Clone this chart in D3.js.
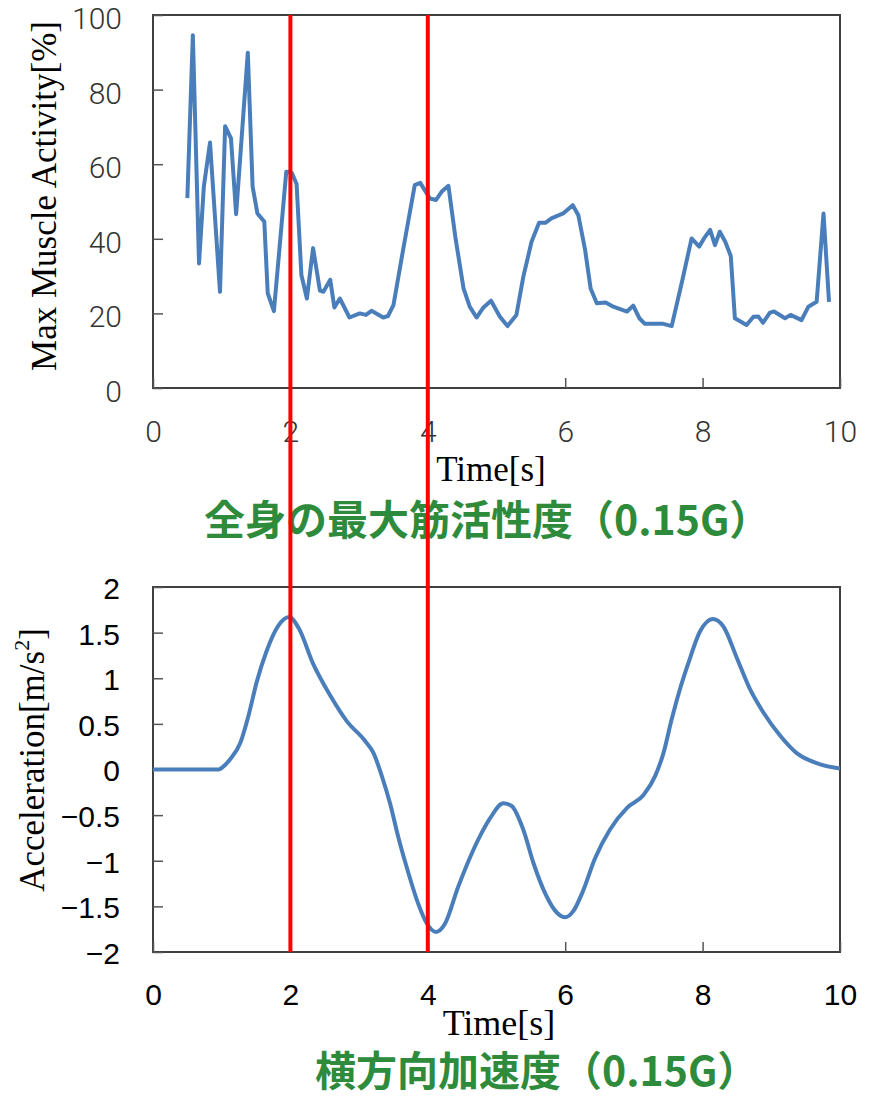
<!DOCTYPE html>
<meta charset="utf-8">
<style>
body{ margin:0; background:#fff; }
.frame{ fill:none; stroke:#404040; stroke-width:2px; }
.tick line{ stroke:#555; stroke-width:1.5px; }
.domain{ display:none; }
.topAxis text{ font-family:Roboto, sans-serif; font-weight:300; font-size:30px; fill:#333; }
.botAxis text{ font-family:"Liberation Sans", Arial, sans-serif; font-size:30px; fill:#000; }
.axisTitle{ font-family:"Liberation Serif", "Times New Roman", serif; fill:#000; }
.caption{ font-family:"Noto Sans CJK JP", sans-serif; font-weight:700; font-size:41px; fill:#2e8b3c; }
.curve{ fill:none; stroke:#4a7ebb; stroke-width:4px; stroke-linejoin:round; }
.marker{ stroke:#ff0000; stroke-width:4px; }
</style>
<body>
<script src="https://d3js.org/d3.v7.min.js"></script>
<script>

// full-body max muscle activity [%]
var topTime=[0.50,0.58,0.67,0.74,0.83,0.975,1.05,1.135,1.21,1.38,1.45,1.52,1.62,1.67,1.76,1.94,2.02,2.09,2.16,2.24,2.33,2.43,2.48,2.58,2.64,2.72,2.86,3.01,3.10,3.18,3.35,3.42,3.50,3.64,3.81,3.89,4.03,4.12,4.20,4.30,4.40,4.52,4.61,4.71,4.81,4.92,5.05,5.16,5.29,5.39,5.51,5.62,5.71,5.80,5.97,6.11,6.19,6.29,6.37,6.46,6.59,6.70,6.90,6.99,7.08,7.16,7.43,7.55,7.70,7.84,7.95,8.02,8.11,8.18,8.25,8.33,8.41,8.47,8.64,8.74,8.81,8.88,8.98,9.04,9.20,9.28,9.44,9.54,9.66,9.76,9.84];
var topActivity=[50.9,94.6,33.4,54,65.8,25.8,70.2,66.9,46.6,89.9,54,46.8,44.6,25.4,20.6,58,57.7,54.7,30.3,24,37.5,26.1,25.8,29,21.6,24,18.9,20,19.6,20.7,18.9,19.3,22.2,37,54.4,55,50.8,50.4,52.6,54.2,40.6,26.7,21.8,18.9,21.6,23.4,19.1,16.6,19.6,29.8,39.2,44.3,44.3,45.5,46.8,49,46.4,37,26.7,22.7,22.9,21.8,20.5,22.1,18.7,17.2,17.2,16.6,28.5,40.1,37.9,40.1,42.4,38.3,41.9,39.2,35.4,18.7,16.9,19.1,19.2,17.5,20.2,20.5,18.7,19.6,18.2,21.8,23.1,46.8,23.1];

// lateral acceleration [m/s2]
var accTime=[0,0.5,0.95,1.05,1.12,1.27,1.39,1.51,1.65,1.82,1.98,2.12,2.33,2.58,2.82,3.09,3.21,3.33,3.45,3.57,3.72,3.86,3.98,4.12,4.25,4.44,4.64,4.78,4.91,5.10,5.22,5.39,5.54,5.71,5.88,6.00,6.12,6.26,6.43,6.65,6.90,7.14,7.31,7.43,7.55,7.67,7.79,7.96,8.15,8.30,8.50,8.69,8.88,9.13,9.37,9.66,10.0];
var accValue=[0,0,0,0.05,0.11,0.29,0.59,0.96,1.29,1.57,1.67,1.55,1.16,0.81,0.53,0.31,0.18,-0.07,-0.37,-0.74,-1.14,-1.47,-1.68,-1.78,-1.69,-1.29,-0.92,-0.70,-0.53,-0.37,-0.40,-0.66,-1.03,-1.36,-1.57,-1.62,-1.55,-1.33,-0.98,-0.66,-0.42,-0.28,-0.07,0.18,0.55,0.88,1.16,1.51,1.65,1.57,1.22,0.88,0.63,0.37,0.18,0.07,0.01];

var xTicks=[0,2,4,6,8,10];
var topYTicks=[0,20,40,60,80,100];
var botYTicks=[-2,-1.5,-1,-0.5,0,0.5,1,1.5,2];
var markerTimes=[2,4];

var svg=d3.select("body").append("svg").attr("width",869).attr("height",1098);

var x=d3.scaleLinear().domain([0,10]).range([153,840]);
var yTop=d3.scaleLinear().domain([0,100]).range([388,15]);
var yBot=d3.scaleLinear().domain([-2,2]).range([952,587]);

// ---- top chart
svg.append("rect").attr("class","frame")
	.attr("x",x(0)).attr("y",yTop(100)).attr("width",x(10)-x(0)).attr("height",yTop(0)-yTop(100));

var gTy=svg.append("g").attr("class","topAxis").attr("transform","translate("+x(0)+",0)")
	.call(d3.axisLeft(yTop).tickValues(topYTicks).tickSizeInner(-10).tickSizeOuter(0).tickPadding(31));
gTy.selectAll("text").attr("dy","0.45em");

var gTx=svg.append("g").attr("class","topAxis").attr("transform","translate(0,"+yTop(0)+")")
	.call(d3.axisBottom(x).tickValues(xTicks).tickSizeInner(-10).tickSizeOuter(0).tickPadding(33));

svg.append("path").attr("class","curve")
	.attr("d",d3.line().x((d,i)=>x(topTime[i])).y(d=>yTop(d))(topActivity));

svg.append("text").attr("class","axisTitle").attr("font-size",35)
	.attr("transform","translate(56,196) rotate(-90)").attr("text-anchor","middle")
	.text("Max Muscle Activity[%]");
svg.append("text").attr("class","axisTitle").attr("font-size",35)
	.attr("x",491).attr("y",481).attr("text-anchor","middle").text("Time[s]");
svg.append("text").attr("class","caption").attr("x",204).attr("y",535).text("全身の最大筋活性度（0.15G）");

// ---- bottom chart
svg.append("rect").attr("class","frame")
	.attr("x",x(0)).attr("y",yBot(2)).attr("width",x(10)-x(0)).attr("height",yBot(-2)-yBot(2));

var gBy=svg.append("g").attr("class","botAxis").attr("transform","translate("+x(0)+",0)")
	.call(d3.axisLeft(yBot).tickValues(botYTicks).tickSizeInner(-10).tickSizeOuter(0).tickPadding(33)
		.tickFormat(d=>d3.format("")(d).replace("-","\u2212")));
gBy.selectAll("text").attr("dy","0.38em");

var gBx=svg.append("g").attr("class","botAxis").attr("transform","translate(0,"+yBot(-2)+")")
	.call(d3.axisBottom(x).tickValues(xTicks).tickSizeInner(-10).tickSizeOuter(0).tickPadding(32));

svg.append("path").attr("class","curve")
	.attr("d",d3.line().curve(d3.curveMonotoneX).x((d,i)=>x(accTime[i])).y(d=>yBot(d))(accValue));

var yt=svg.append("text").attr("class","axisTitle").attr("font-size",35)
	.attr("transform","translate(44,760) rotate(-90)").attr("text-anchor","middle");
yt.append("tspan").text("Acceleration[m/s");
yt.append("tspan").attr("font-size",22).attr("dy","-0.7em").text("2");
yt.append("tspan").attr("dy","0.45em").text("]");

svg.append("text").attr("class","axisTitle").attr("font-size",36)
	.attr("x",499).attr("y",1035).attr("text-anchor","middle").text("Time[s]");
svg.append("text").attr("class","caption").attr("x",315).attr("y",1086).text("横方向加速度（0.15G）");

// ---- red markers through both charts
svg.selectAll(".marker").data(markerTimes).enter().append("line").attr("class","marker")
	.attr("x1",d=>x(d)).attr("x2",d=>x(d)).attr("y1",yTop(100)).attr("y2",yBot(-2));

</script>
</body>
</html>
